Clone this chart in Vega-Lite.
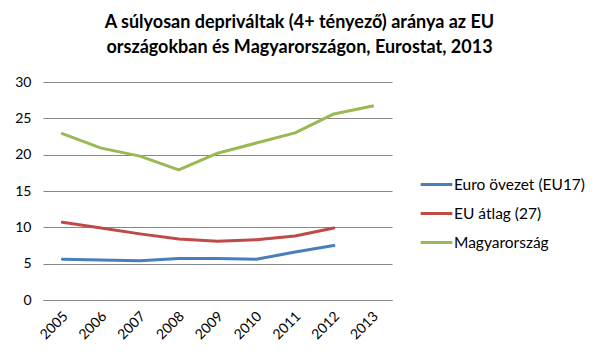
{
  "$schema": "https://vega.github.io/schema/vega-lite/v6.json",
  "autosize": "none",
  "width": 349,
  "height": 218,
  "padding": {"left": 43, "top": 82, "right": 208, "bottom": 61},
  "background": "white",
  "title": {
    "text": ["A súlyosan depriváltak (4+ tényező) aránya az EU", "országokban és Magyarországon, Eurostat, 2013"],
    "font": "Lato",
    "fontSize": 18,
    "fontWeight": "bold",
    "color": "#000000",
    "anchor": "middle",
    "frame": "group",
    "dx": 82,
    "lineHeight": 25,
    "offset": 18
  },
  "data": {
    "values": [
      {"ev": "2005", "sorozat": "Euro övezet (EU17)", "ertek": 5.6},
      {"ev": "2006", "sorozat": "Euro övezet (EU17)", "ertek": 5.5},
      {"ev": "2007", "sorozat": "Euro övezet (EU17)", "ertek": 5.4},
      {"ev": "2008", "sorozat": "Euro övezet (EU17)", "ertek": 5.7},
      {"ev": "2009", "sorozat": "Euro övezet (EU17)", "ertek": 5.7},
      {"ev": "2010", "sorozat": "Euro övezet (EU17)", "ertek": 5.6},
      {"ev": "2011", "sorozat": "Euro övezet (EU17)", "ertek": 6.6},
      {"ev": "2012", "sorozat": "Euro övezet (EU17)", "ertek": 7.5},
      {"ev": "2005", "sorozat": "EU átlag (27)", "ertek": 10.7},
      {"ev": "2006", "sorozat": "EU átlag (27)", "ertek": 9.9},
      {"ev": "2007", "sorozat": "EU átlag (27)", "ertek": 9.1},
      {"ev": "2008", "sorozat": "EU átlag (27)", "ertek": 8.4},
      {"ev": "2009", "sorozat": "EU átlag (27)", "ertek": 8.1},
      {"ev": "2010", "sorozat": "EU átlag (27)", "ertek": 8.3},
      {"ev": "2011", "sorozat": "EU átlag (27)", "ertek": 8.8},
      {"ev": "2012", "sorozat": "EU átlag (27)", "ertek": 9.9},
      {"ev": "2005", "sorozat": "Magyarország", "ertek": 22.9},
      {"ev": "2006", "sorozat": "Magyarország", "ertek": 20.9},
      {"ev": "2007", "sorozat": "Magyarország", "ertek": 19.8},
      {"ev": "2008", "sorozat": "Magyarország", "ertek": 17.9},
      {"ev": "2009", "sorozat": "Magyarország", "ertek": 20.2},
      {"ev": "2010", "sorozat": "Magyarország", "ertek": 21.6},
      {"ev": "2011", "sorozat": "Magyarország", "ertek": 23.0},
      {"ev": "2012", "sorozat": "Magyarország", "ertek": 25.6},
      {"ev": "2013", "sorozat": "Magyarország", "ertek": 26.7}
    ]
  },
  "mark": {"type": "line", "strokeWidth": 3, "strokeCap": "round", "strokeJoin": "round"},
  "encoding": {
    "x": {
      "field": "ev",
      "type": "ordinal",
      "title": null,
      "scale": {"paddingInner": 0, "paddingOuter": 0.5},
      "axis": {
        "labelAngle": -45,
        "labelAlign": "right",
        "labelBaseline": "middle",
        "labelFont": "Lato",
        "labelFontSize": 14,
        "labelColor": "#000000",
        "labelPadding": 14,
        "labelOffset": 3,
        "ticks": false,
        "domainColor": "#878787",
        "domainWidth": 1,
        "grid": false
      }
    },
    "y": {
      "field": "ertek",
      "type": "quantitative",
      "title": null,
      "scale": {"domain": [0, 30], "nice": false},
      "axis": {
        "values": [0, 5, 10, 15, 20, 25, 30],
        "labelFont": "Lato",
        "labelFontSize": 14,
        "labelColor": "#000000",
        "labelPadding": 12,
        "ticks": false,
        "domain": false,
        "gridColor": "#878787",
        "gridWidth": 1
      }
    },
    "color": {
      "field": "sorozat",
      "type": "nominal",
      "title": null,
      "scale": {
        "domain": ["Euro övezet (EU17)", "EU átlag (27)", "Magyarország"],
        "range": ["#4a7ebb", "#be4b48", "#98b954"]
      },
      "legend": {
        "orient": "none",
        "legendX": 376,
        "legendY": 85,
        "symbolType": "stroke",
        "symbolStrokeWidth": 3,
        "symbolSize": 1000,
        "labelFont": "Lato",
        "labelFontSize": 15.5,
        "labelColor": "#000000",
        "rowPadding": 3,
        "labelOffset": 0
      }
    }
  },
  "config": {
    "view": {"stroke": null}
  }
}
